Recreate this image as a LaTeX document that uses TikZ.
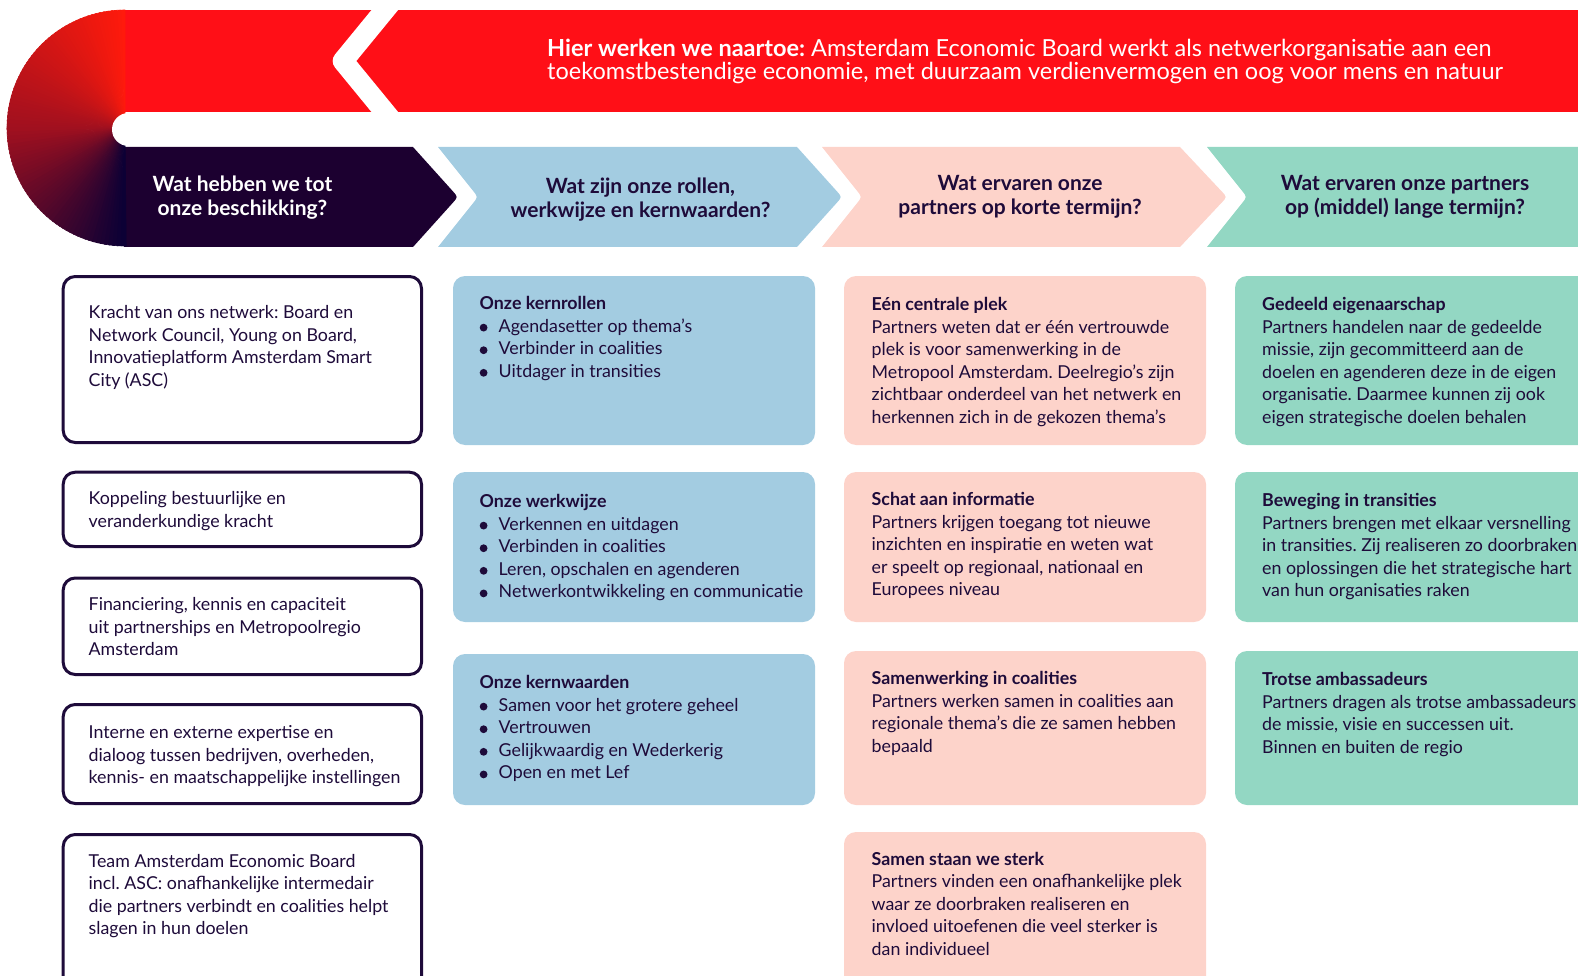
\documentclass[tikz,border=0pt]{standalone}
\usepackage{fontspec}
\setmainfont{Lato}
\frenchspacing
\definecolor{redb}{HTML}{FF0F17}
\definecolor{darkh}{HTML}{1C0030}
\definecolor{blueb}{HTML}{A3CCE1}
\definecolor{pinkb}{HTML}{FDD3CA}
\definecolor{greenb}{HTML}{93D7C3}
\definecolor{ink}{HTML}{1E0B3A}
\definecolor{gA}{HTML}{FF1A0C}
\definecolor{gB}{HTML}{A0101F}
\definecolor{gC}{HTML}{0C0035}
\newcommand\blt{\makebox[19pt][l]{\tikz[baseline]\fill[ink] (4pt,4.4pt) circle (3.9pt);}}
\begin{document}
\begin{tikzpicture}[x=1pt,y=-1pt,
  txtbody/.style={anchor=north west, inner sep=0pt, align=left, text=ink, font=\fontsize{17.8}{22.6}\selectfont},
  txthead/.style={inner sep=0pt, align=center, text=ink, font=\bfseries\fontsize{21}{24.2}\selectfont},
  txtban/.style={anchor=north west, inner sep=0pt, align=left, text=white, font=\fontsize{23.5}{23.2}\selectfont},
  outl/.style={draw=ink, line width=3pt, rounded corners=12pt, fill=white},
  card/.style={rounded corners=12pt},
]
\useasboundingbox (0,0) rectangle (1578,976);
\clip (0,0) rectangle (1578,976);

% ---- top red banner
\fill[redb] (124,10) rectangle (1600,112);
\draw[white, line width=20.6pt, line join=round] (393,0) -- (343,61) -- (393,122);

% ---- header chevrons
\fill[darkh] (124,147) -- (413,147) -- (452.65,191.06) .. controls (458,197) .. (452.65,202.94) -- (413,247) -- (124,247) -- cycle;
\fill[blueb] (438,147) -- (797,147) -- (836.65,191.06) .. controls (842,197) .. (836.65,202.94) -- (797,247) -- (438,247) -- (473,203.25) .. controls (478,197) .. (473,190.75) -- cycle;
\fill[pinkb] (822,147) -- (1180,147) -- (1221.5,191.2) .. controls (1227,197) .. (1221.5,202.8) -- (1180,247) -- (822,247) -- (857,203.25) .. controls (862,197) .. (857,190.75) -- cycle;
\fill[greenb] (1207,147) -- (1600,147) -- (1600,247) -- (1207,247) -- (1242,203.25) .. controls (1247,197) .. (1242,190.75) -- cycle;

% ---- conic gradient half disc
\foreach \i in {0,...,89}{
  \pgfmathsetmacro\a{90+2*\i}
  \pgfmathsetmacro\b{92.6+2*\i}
  \ifnum\i<45
    \pgfmathtruncatemacro\p{100-\i*100/45}
    \colorlet{wc}{gA!\p!gB}
  \else
    \pgfmathtruncatemacro\p{100-(\i-45)*100/44}
    \colorlet{wc}{gB!\p!gC}
  \fi
  \filldraw[fill=wc, draw=wc, line width=0.6pt, line join=round] (125,128) -- ({125+118*cos(\a)},{128-118*sin(\a)}) -- ({125+118*cos(\b)},{128-118*sin(\b)}) -- cycle;
}
\fill[white, rounded corners=16.5pt] (112,113) rectangle (1600,146);

% ---- banner text
\node[txtban] (ban) at (547,38.6) {\rule{0pt}{16.24pt}\textbf{Hier werken we naartoe:} Amsterdam Economic Board werkt als netwerkorganisatie aan een\\toekomstbestendige economie, met duurzaam verdienvermogen en oog voor mens en natuur};

% ---- header texts
\node[txthead, text=white] (h1) at (242.5,197.5) {Wat hebben we tot\\onze beschikking?};
\node[txthead] (h2) at (640.5,199.5) {Wat zijn onze rollen,\\werkwijze en kernwaarden?};
\node[txthead] (h3) at (1020,197) {Wat ervaren onze\\partners op korte termijn?};
\node[txthead] (h4) at (1405,197) {Wat ervaren onze partners\\op (middel) lange termijn?};

% ---- column 1: outlined boxes
\draw[outl] (63.2,276.5) rectangle (421.5,442.5);
\draw[outl] (63.2,472.2) rectangle (421.5,546.5);
\draw[outl] (63.2,578) rectangle (421.5,674.5);
\draw[outl] (63.2,704.5) rectangle (421.5,803.5);
\draw[outl] (63.2,834.5) rectangle (421.5,1000);
\node[txtbody] (a1) at (88.5,302.4) {\strut Kracht van ons netwerk: Board en\\Network Council, Young on Board,\\Innovatieplatform Amsterdam Smart\\City (ASC)};
\node[txtbody] (a2) at (88.5,488.4) {\strut Koppeling bestuurlijke en\\veranderkundige kracht};
\node[txtbody] (a3) at (88.5,594.4) {\strut Financiering, kennis en capaciteit\\uit partnerships en Metropoolregio\\Amsterdam};
\node[txtbody] (a4) at (88.5,722.4) {\strut Interne en externe expertise en\\dialoog tussen bedrijven, overheden,\\kennis- en maatschappelijke instellingen};
\node[txtbody] (a5) at (88.5,851) {\strut Team Amsterdam Economic Board\\incl. ASC: onafhankelijke intermedair\\die partners verbindt en coalities helpt\\slagen in hun doelen};

% ---- column 2: blue cards
\fill[blueb, card] (453,276) rectangle (815,445);
\fill[blueb, card] (453,472) rectangle (815,622);
\fill[blueb, card] (453,654) rectangle (815,805);
\node[txtbody] (b1) at (479.5,293.4) {\strut\textbf{Onze kernrollen}\\\blt Agendasetter op thema’s\\\blt Verbinder in coalities\\\blt Uitdager in transities};
\node[txtbody] (b2) at (479.5,491.4) {\strut\textbf{Onze werkwijze}\\\blt Verkennen en uitdagen\\\blt Verbinden in coalities\\\blt Leren, opschalen en agenderen\\\blt Netwerkontwikkeling en communicatie};
\node[txtbody] (b3) at (479.5,672.4) {\strut\textbf{Onze kernwaarden}\\\blt Samen voor het grotere geheel\\\blt Vertrouwen\\\blt Gelijkwaardig en Wederkerig\\\blt Open en met Lef};

% ---- column 3: pink cards
\fill[pinkb, card] (844,276) rectangle (1206,445);
\fill[pinkb, card] (844,472) rectangle (1206,622);
\fill[pinkb, card] (844,651) rectangle (1206,805);
\fill[pinkb, card] (844,832) rectangle (1206,1000);
\node[txtbody] (c1) at (871.5,294.4) {\strut\textbf{Eén centrale plek}\\Partners weten dat er één vertrouwde\\plek is voor samenwerking in de\\Metropool Amsterdam. Deelregio’s zijn\\zichtbaar onderdeel van het netwerk en\\herkennen zich in de gekozen thema’s};
\node[txtbody] (c2) at (871.5,489.4) {\strut\textbf{Schat aan informatie}\\Partners krijgen toegang tot nieuwe\\inzichten en inspiratie en weten wat\\er speelt op regionaal, nationaal en\\Europees niveau};
\node[txtbody] (c3) at (871.5,668.4) {\strut\textbf{Samenwerking in coalities}\\Partners werken samen in coalities aan\\regionale thema’s die ze samen hebben\\bepaald};
\node[txtbody] (c4) at (871.5,849) {\strut\textbf{Samen staan we sterk}\\Partners vinden een onafhankelijke plek\\waar ze doorbraken realiseren en\\invloed uitoefenen die veel sterker is\\dan individueel};

% ---- column 4: green cards
\fill[greenb, card] (1235,276) rectangle (1620,445);
\fill[greenb, card] (1235,472) rectangle (1620,622);
\fill[greenb, card] (1235,651) rectangle (1620,805);
\node[txtbody] (d1) at (1262,294.4) {\strut\textbf{Gedeeld eigenaarschap}\\Partners handelen naar de gedeelde\\missie, zijn gecommitteerd aan de\\doelen en agenderen deze in de eigen\\organisatie. Daarmee kunnen zij ook\\eigen strategische doelen behalen};
\node[txtbody] (d2) at (1262,490.4) {\strut\textbf{Beweging in transities}\\Partners brengen met elkaar versnelling\\in transities. Zij realiseren zo doorbraken\\en oplossingen die het strategische hart\\van hun organisaties raken};
\node[txtbody] (d3) at (1262,669.4) {\strut\textbf{Trotse ambassadeurs}\\Partners dragen als trotse ambassadeurs\\de missie, visie en successen uit.\\Binnen en buiten de regio};
\end{tikzpicture}
\end{document}
